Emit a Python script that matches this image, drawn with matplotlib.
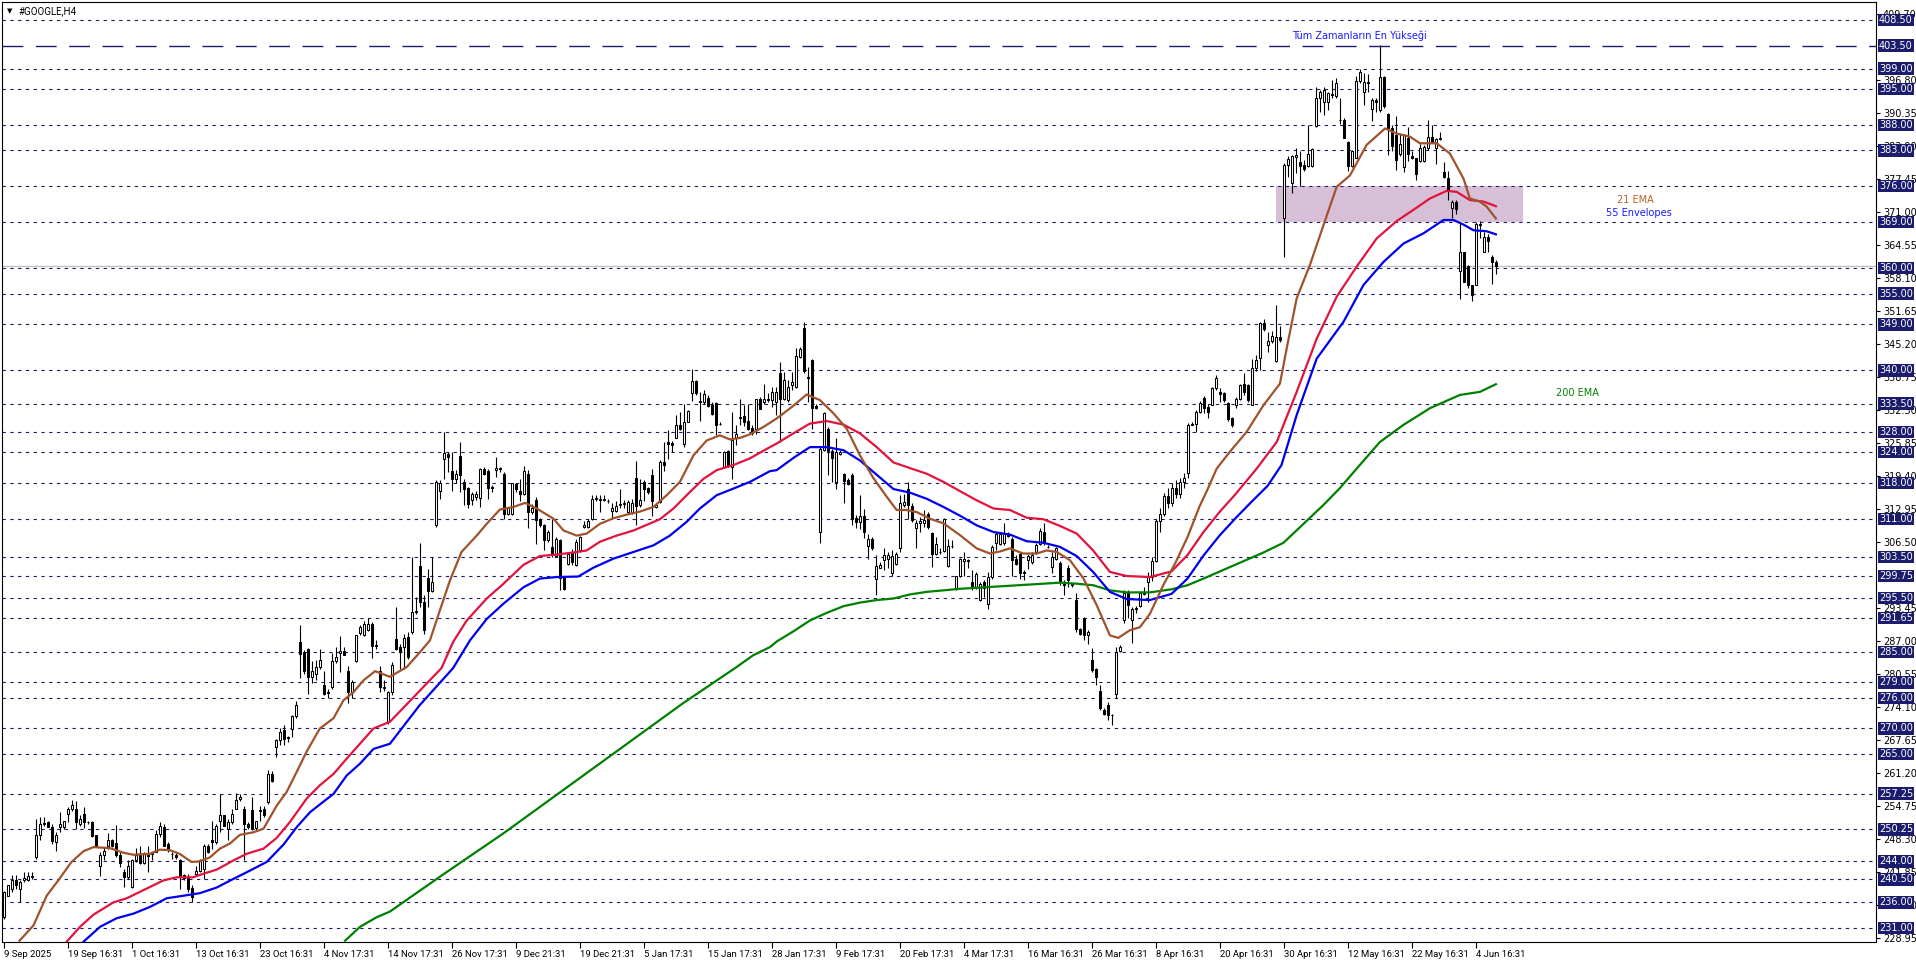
import matplotlib
matplotlib.use("Agg")
import matplotlib.pyplot as plt
import matplotlib.transforms as mtransforms
from matplotlib.patches import Rectangle

plt.rcParams['font.family'] = ['DejaVu Sans']

# ---------------- data ----------------
opens = [
233.1,237.3,238.7,240.3,238.7,240.3,240.3,240.9,244.8,249.1,
251.6,251.7,250.7,247.8,250.7,250.7,253.3,254.2,254.2,251.4,
253.3,251.8,251.8,249.1,243.2,245.2,247.1,248.1,247.7,245.3,
242.0,240.9,239.0,244.2,245.3,243.7,245.3,245.5,245.9,249.4,
250.7,247.5,245.5,245.3,244.2,241.3,240.9,238.8,241.6,242.2,
242.6,247.0,248.1,247.8,252.0,253.0,250.4,251.7,254.3,256.3,
254.3,251.4,254.0,250.5,254.0,254.2,255.6,261.1,266.4,267.7,
269.6,268.3,269.9,272.4,286.9,284.9,285.5,280.1,280.7,282.0,
278.4,276.9,278.1,283.2,284.8,285.1,281.2,277.2,283.1,288.7,
288.2,289.2,290.5,286.2,281.2,278.1,271.2,277.1,287.5,285.9,
285.9,287.9,288.9,292.9,301.7,294.7,299.4,296.8,309.7,316.4,
322.7,323.7,320.3,318.7,323.3,318.2,317.0,314.6,315.2,315.0,
320.8,320.3,317.2,320.6,320.9,319.8,312.0,312.0,317.7,316.5,
315.9,319.8,312.3,314.6,310.9,309.8,306.8,305.5,303.8,306.8,
299.6,302.2,304.5,301.9,304.8,309.4,309.4,311.0,314.9,314.6,
314.7,314.4,312.6,312.6,313.6,313.9,312.3,312.3,318.9,313.6,
318.2,317.0,319.5,313.3,314.3,322.1,326.0,325.9,326.8,329.3,
325.7,330.0,335.5,337.9,334.0,333.8,334.6,333.3,333.7,329.6,
321.1,324.2,321.1,326.7,330.9,331.1,330.2,328.7,328.5,334.5,
333.8,334.4,334.2,333.9,339.4,334.5,334.2,337.1,336.8,342.6,
348.2,338.7,342.0,333.1,308.4,324.4,328.6,324.2,318.2,323.7,
319.8,318.5,319.5,311.2,310.4,311.6,305.7,307.1,299.3,301.4,
302.9,303.2,300.3,302.2,305.2,313.6,316.9,313.5,309.1,310.2,
310.2,312.0,308.3,304.2,304.5,304.6,301.8,305.7,297.2,299.9,
302.7,302.9,298.6,297.7,295.1,298.6,294.4,299.6,306.3,306.1,
306.3,307.8,307.1,303.1,304.2,300.5,302.9,302.6,304.5,306.1,
308.4,305.5,301.6,303.2,302.4,298.6,301.4,298.1,295.1,289.5,
291.5,288.3,283.3,281.6,277.4,273.7,274.5,272.7,276.8,285.1,
291.2,296.7,291.2,293.3,293.9,296.2,298.6,299.6,302.8,310.5,
312.0,315.5,314.0,317.0,315.8,318.2,320.0,329.4,329.6,331.9,
334.6,332.9,333.3,336.6,335.7,335.5,333.7,330.6,333.2,334.4,
337.3,337.1,333.2,340.4,342.5,349.2,344.9,345.7,341.8,346.6,
369.7,380.2,376.6,381.8,380.7,380.2,380.0,380.0,387.7,393.3,
392.4,392.4,393.9,393.7,389.0,389.0,384.7,380.0,381.6,396.6,
394.4,396.3,391.1,392.9,390.9,397.4,390.1,387.3,386.0,382.4,
379.8,385.4,382.0,381.5,380.9,380.9,383.4,385.7,383.4,385.3,
378.8,377.7,371.8,373.0,359.4,363.1,360.5,356.6,356.7,368.6,
363.2,366.1,362.2,361.1]

highs = [
238.2,239.4,241.4,241.3,240.3,242.0,241.9,241.9,252.3,252.7,
252.7,252.0,251.4,249.7,253.6,252.0,254.6,256.1,255.9,253.0,
254.6,252.0,252.0,249.2,245.8,246.8,249.6,248.4,251.2,245.8,
242.6,244.2,244.5,246.6,247.1,245.9,247.1,245.9,250.1,251.7,
251.4,247.8,245.8,245.8,244.5,241.6,241.6,239.3,243.2,244.5,
247.5,247.5,252.0,251.4,257.2,253.1,252.3,254.3,257.4,257.2,
254.9,251.7,256.6,252.0,254.9,254.9,261.8,261.6,268.0,270.1,
270.6,268.6,272.6,275.3,290.2,285.3,285.7,283.1,283.3,285.5,
281.2,277.8,284.8,285.9,288.1,285.9,282.2,279.4,288.3,290.2,
291.1,291.6,290.8,287.2,282.3,279.4,277.4,283.0,293.7,286.5,
288.5,288.9,303.5,295.7,306.3,296.0,301.2,303.5,318.5,318.5,
328.0,324.0,324.0,320.5,326.0,318.8,317.2,316.2,316.5,320.9,
321.1,320.8,317.5,323.1,321.1,320.1,313.3,318.0,318.0,318.8,
321.3,320.5,313.9,315.2,311.1,310.0,308.7,311.0,307.4,307.1,
299.9,304.5,305.0,307.0,307.7,310.5,311.0,315.6,315.6,315.6,
315.6,314.8,314.1,314.4,316.9,314.6,314.6,314.8,322.2,318.8,
318.5,317.2,320.8,314.1,322.4,326.0,328.3,326.1,331.2,331.9,
333.5,332.2,340.3,338.1,335.8,336.1,335.1,333.8,333.8,330.0,
324.2,324.4,331.9,329.3,334.5,333.2,333.5,329.3,334.5,334.8,
337.4,335.5,336.8,336.8,341.7,339.7,338.1,339.7,344.4,344.6,
349.4,340.7,342.3,333.5,325.0,331.9,329.0,324.6,326.8,324.4,
320.0,318.9,320.0,311.8,315.6,312.9,308.1,307.5,303.9,302.6,
305.2,304.5,304.8,304.5,315.6,315.9,318.2,314.0,310.7,311.4,
312.7,312.3,308.4,307.5,305.2,311.2,307.1,306.8,299.9,303.3,
304.5,303.2,300.9,300.6,298.6,299.0,300.6,305.8,308.4,308.4,
310.2,308.4,307.5,304.0,304.5,300.9,304.2,304.5,306.3,309.1,
310.1,305.8,304.5,305.5,302.7,299.0,301.9,298.5,296.4,289.6,
291.8,289.2,285.7,281.8,278.4,273.9,275.2,272.9,285.9,286.3,
297.0,297.0,293.8,293.9,296.7,297.7,300.6,303.5,311.0,313.0,
316.0,317.0,318.0,318.5,319.0,320.0,329.8,329.9,332.2,334.0,
335.0,333.5,336.8,339.1,336.5,335.8,333.9,330.9,334.8,337.4,
339.4,337.4,342.3,343.0,349.4,350.0,347.6,347.7,352.8,348.7,
380.5,382.0,382.2,383.5,382.8,381.1,388.0,383.4,395.5,394.8,
395.5,394.5,396.8,397.2,393.3,389.3,384.9,383.1,397.6,398.9,
398.1,397.9,393.2,393.2,403.6,397.6,390.3,387.9,389.8,386.3,
386.3,387.6,382.8,381.6,384.2,384.1,389.0,388.0,385.5,386.7,
380.8,379.0,373.3,373.3,369.1,363.2,360.6,356.7,369.1,369.2,
367.1,366.6,362.5,361.6]

lows = [
232.8,237.2,238.0,238.7,236.0,240.0,240.1,240.6,244.5,248.1,
251.0,250.7,247.5,246.0,249.7,250.4,251.7,253.8,250.4,251.0,
250.5,251.4,248.8,247.0,241.1,244.2,246.5,246.8,244.8,242.9,
239.0,240.6,238.8,243.9,243.5,243.5,241.9,244.2,245.8,248.8,
247.0,245.8,244.5,244.5,238.7,240.3,238.0,236.0,241.3,241.9,
240.6,245.7,246.5,247.5,249.7,250.9,248.1,251.4,254.2,255.9,
244.2,250.4,250.1,250.1,252.0,252.7,255.3,259.6,264.4,266.7,
266.7,267.3,268.3,272.0,279.9,280.7,276.8,278.8,279.4,281.7,
276.5,276.0,277.8,282.7,281.0,284.3,275.0,276.0,282.9,288.2,
288.1,289.0,283.8,285.5,277.2,277.4,270.9,276.5,285.3,281.7,
281.7,283.6,288.5,292.4,293.7,288.5,293.7,296.6,309.4,314.9,
318.8,320.1,316.4,318.0,316.2,313.6,313.0,313.6,314.6,313.3,
319.5,314.9,316.2,319.2,320.1,311.0,311.8,311.8,316.2,314.4,
315.6,309.2,312.0,306.1,309.4,304.8,306.5,303.5,303.7,297.0,
297.0,301.9,301.9,301.8,304.5,309.2,309.2,310.7,314.4,312.3,
314.4,314.1,311.0,312.3,313.0,313.0,312.0,312.0,309.7,313.3,
314.4,315.9,311.5,313.0,314.1,320.4,322.7,324.0,326.7,328.3,
325.0,329.9,334.0,335.1,330.2,333.5,332.8,331.2,327.3,329.3,
320.9,321.1,318.8,325.4,329.3,329.1,328.3,327.3,327.6,332.4,
333.5,333.8,332.9,331.2,326.0,334.2,333.9,336.1,336.5,342.5,
339.4,333.9,328.6,332.5,306.3,324.2,319.5,318.2,316.9,323.4,
314.0,317.6,309.7,309.2,309.0,307.3,303.2,304.8,296.0,301.3,
300.9,301.3,299.9,301.9,304.5,313.3,311.0,310.4,305.3,308.4,
309.4,308.9,301.6,303.9,304.2,304.5,301.6,305.2,297.0,299.6,
299.9,301.3,297.0,297.3,294.9,295.7,293.4,299.3,304.8,305.8,
305.8,307.4,299.8,301.9,299.3,299.0,301.1,302.2,304.2,305.8,
305.8,305.2,300.3,302.9,298.0,296.0,297.7,297.7,288.9,288.2,
287.2,286.6,281.0,278.4,273.7,272.7,271.6,270.6,275.9,285.0,
290.7,291.5,286.8,292.5,293.7,296.0,294.7,298.8,302.5,308.5,
311.5,313.0,313.5,315.0,315.0,317.0,319.0,329.3,328.0,331.6,
331.6,330.6,333.2,336.1,333.9,333.9,330.1,329.0,332.6,334.2,
335.2,333.9,333.2,339.9,340.0,347.7,343.6,345.3,341.6,345.5,
362.2,377.9,374.6,378.5,376.1,379.0,379.8,379.8,387.5,390.6,
390.0,390.9,393.2,393.3,388.1,385.4,378.9,379.8,381.5,396.1,
391.9,394.5,388.8,390.5,390.5,391.3,382.1,382.8,379.2,382.0,
378.7,380.9,381.3,377.2,380.8,380.7,383.1,384.4,380.3,385.0,
377.7,373.3,369.7,370.5,354.0,357.2,356.2,353.6,356.6,365.9,
363.1,363.2,356.8,358.8]

closes = [
238.0,239.3,240.3,239.3,240.0,240.7,241.1,241.1,249.1,251.4,
251.4,250.8,247.9,249.2,251.4,252.0,254.3,255.1,251.7,252.3,
251.7,251.7,249.0,247.1,245.2,246.1,248.1,247.0,245.3,243.7,
240.9,243.1,244.2,245.3,243.7,245.5,245.0,245.6,249.4,251.0,
247.1,246.5,245.4,244.9,240.9,240.7,238.7,237.0,242.2,244.2,
247.0,245.8,247.8,251.0,253.0,251.0,251.7,253.3,256.1,256.6,
251.4,250.7,250.4,252.0,253.9,253.0,261.1,259.8,267.7,269.3,
268.0,268.1,272.4,274.6,284.6,281.2,280.1,281.2,282.0,283.3,
276.8,277.2,283.1,284.0,285.1,284.4,277.2,279.1,288.2,289.8,
290.5,290.5,286.1,286.2,278.1,278.0,277.1,282.5,285.6,284.9,
287.7,284.0,292.8,292.7,294.7,289.2,296.8,298.6,318.2,318.0,
323.9,323.1,318.7,319.8,319.5,316.9,313.9,315.9,315.9,320.8,
319.8,317.0,317.0,320.9,320.8,312.0,313.0,317.9,316.8,315.9,
320.3,312.3,313.1,310.7,309.7,306.8,308.5,304.0,307.1,299.4,
297.3,304.1,302.5,306.4,307.4,309.8,310.5,314.8,315.0,314.8,
314.9,314.5,313.1,313.5,313.9,314.0,314.3,314.1,313.5,314.6,
316.9,316.2,314.4,313.7,322.1,321.6,325.7,325.5,329.3,328.5,
330.0,332.0,337.9,335.5,333.8,335.3,333.0,331.5,329.3,329.5,
324.0,321.3,326.3,327.6,330.7,330.0,328.6,327.8,334.4,332.5,
334.4,334.2,335.8,335.7,334.5,338.1,336.8,337.8,342.9,344.2,
339.8,338.5,332.7,332.7,324.7,331.6,324.2,322.8,324.1,324.1,
318.3,317.7,311.0,310.4,311.6,308.4,307.1,305.2,301.8,301.9,
304.0,304.0,303.7,304.2,314.0,314.2,313.6,310.7,310.1,310.5,
310.7,309.4,304.2,306.1,304.4,310.9,305.7,305.6,299.8,303.1,
303.1,302.8,297.5,300.1,298.3,297.5,299.6,305.5,308.1,308.1,
308.1,307.7,302.9,302.2,300.3,300.4,303.7,303.9,305.9,308.6,
306.3,305.4,303.5,305.2,298.6,298.0,299.0,298.1,289.5,288.4,
288.2,288.9,281.4,280.1,273.9,272.9,272.6,272.6,285.0,285.9,
296.4,294.1,293.4,293.6,296.4,296.4,299.6,302.8,310.5,312.0,
315.5,314.0,317.0,315.8,318.2,319.0,329.4,329.6,331.9,333.7,
332.7,331.9,336.6,338.6,335.3,334.2,330.5,329.3,334.4,337.1,
335.7,334.2,340.4,342.0,349.2,348.1,345.7,346.8,346.6,345.9,
380.2,381.3,382.0,382.2,380.0,379.4,382.4,383.3,393.3,394.5,
394.8,394.2,394.0,396.1,388.9,385.5,380.0,382.9,396.6,398.3,
396.3,396.2,392.9,392.5,397.4,391.6,387.3,383.9,381.1,384.2,
386.0,382.4,381.5,378.3,383.5,383.7,385.7,384.7,385.2,385.4,
377.9,375.3,373.0,371.6,363.1,357.2,356.6,354.7,368.6,368.5,
366.1,365.3,361.1,360.5]

# indicator lines (bar index, price)
ema21_x = [4,7.5,10.8,13.7,17,20,22.5,26.6,30,32.5,36.6,39.1,41.6,44,47,49,51.6,54.1,56.6,59.1,
           62.5,65,68.3,70.8,73.3,75.8,79.1,82.5,85,87.5,90,92.9,96.6,100.8,104.1,106.6,109.1,111.6,114.5,118.3,
           120.8,124.1,127.5,130.4,133.3,137.5,140,143.3,145.8,149.1,152.5,155.8,159.1,162.5,165.8,169.1,172.5,175.8,179.1,181.6,
           184.1,186.6,189.9,193.3,197.5,200.8,204.1,207.5,210.8,214.1,217.5,220.8,223.3,225.8,228.3,231.6,235,239.1,243.3,246.6,
           249.1,251.6,254.9,258.3,260.8,263.3,266.6,270,273.3,276.6,278.7,281.6,284.1,286.6,290,293,296,299,301,303.3,306.6,
           310.8,315,319.1,320.8,323.3,326.6,330,333.3,336.6,340.8,345.4,348.3,351.6,354.1,358.3,361.6,365,366.6,369.1,370.8,373.1]
ema21_y = [228.5,231.5,237.3,240.3,243.9,246.0,246.8,246.6,245.7,245.3,245.5,246.3,246.2,245.5,243.9,244.0,244.8,246.5,247.5,249.2,
           249.7,250.4,254.9,257.6,261.5,265.5,270.0,272.0,275.5,277.1,279.4,281.2,280.1,282.0,284.9,287.2,293.1,298.9,304.5,307.7,
           310.0,312.8,313.3,314.1,313.0,311.0,308.7,307.7,308.1,310.0,311.1,311.8,312.4,313.3,315.6,318.2,323.4,326.3,327.3,326.5,
           326.8,327.5,328.9,330.6,333.1,335.3,334.2,331.6,328.6,323.4,318.9,315.3,312.7,312.7,312.3,311.0,310.1,307.8,305.2,304.2,
           304.6,305.2,304.2,304.2,304.8,304.5,302.9,299.3,294.1,288.2,287.7,289.2,289.8,292.4,298.1,302.4,307.4,313.4,316.7,320.8,324.1,
           328.0,333.2,337.4,344.3,354.1,360.6,368.4,375.9,378.1,384.1,387.3,386.3,385.7,384.4,384.4,382.4,377.5,373.6,373.0,372.0,369.7]

env_up_x = [15.8,19.1,22.5,27.5,30.8,35.8,40,43.3,47.4,50,53.3,57.5,60.8,65,68.3,71.6,75.8,79.1,82.5,85.8,
            89.1,92.5,96.6,103,109.5,112.4,115.8,120.8,125,130,134.1,138.3,142.5,145.8,149.1,153.3,157.5,160.8,164.1,167.5,
            170.8,175,178.3,182.5,186.6,191.6,193.3,197.5,201.6,205.8,210,214.1,218.3,222.5,226.6,230.8,235,239.1,243.3,247.5,
            251.6,255.8,260,264.1,268.3,272.4,276.6,280.8,286.6,292,296,300,304,308,313.3,318.3,323.3,328.3,333.3,338.3,343.3,
            348.3,352.5,356.6,360.8,363.3,366.6,370,373.1]
env_up_y = [228.3,231.2,233.6,236.0,236.8,238.7,240.3,240.9,240.9,241.6,242.4,244.2,245.5,246.5,248.6,251.7,256.3,258.9,261.1,264.1,
            267.0,270.0,271.3,276.5,281.8,286.9,291.1,295.4,298.3,302.0,303.7,304.0,304.4,304.8,306.5,307.7,308.7,309.8,310.9,313.0,
            315.6,318.8,320.5,321.5,322.8,325.0,325.7,327.7,329.6,330.1,329.4,327.7,325.0,322.0,320.9,319.8,318.2,316.4,314.6,313.0,
            312.7,311.2,310.9,309.6,308.1,304.8,300.6,299.8,299.6,300.7,303.9,308.4,312.3,315.8,320.8,326.0,335.8,346.2,354.4,360.3,365.8,
            369.2,371.4,373.6,375.1,374.9,373.3,373.0,372.1]

env_dn_x = [20,24.1,28.3,32.5,36.6,40.8,45,49.1,53.3,57.5,61.6,65.8,70,73.3,76.6,80,82.5,85.8,89.1,92.5,
            96.6,104,112.4,116.6,120.8,125,130,134.1,138.3,143.7,147.4,152.5,157.5,162.5,166.6,170.8,174.1,178.3,182.5,186.6,
            191.6,193.3,197.5,201.6,205.8,210,214.1,218.3,222.5,226.6,230.8,235,239.1,243.3,247.5,251.6,255.8,260,264.1,268.3,
            272.4,276.6,280.8,286.6,292,296,300,304,308,312,316,319.5,323.3,328.3,335,340,345,350,355,360,362.5,365,
            367.5,370.8,373.1]
env_dn_y = [228.3,231.2,232.9,233.8,235.1,236.8,237.3,237.8,238.9,240.6,242.2,243.9,247.3,250.7,253.6,255.7,257.2,260.8,263.1,266.0,
            267.0,274.5,281.8,287.2,291.4,294.4,297.6,299.3,299.6,299.7,301.4,303.2,304.5,305.8,307.7,310.4,313.0,315.6,316.9,318.2,
            320.3,320.5,322.9,325.0,325.0,324.4,322.4,319.6,316.8,316.1,314.9,313.3,311.6,309.7,308.4,307.9,306.6,306.3,305.5,303.7,
            300.6,296.7,295.3,295.1,296.3,299.3,303.8,307.7,311.1,314.3,317.4,321.5,331.3,342.3,349.5,356.7,361.2,364.8,366.8,369.4,369.4,368.5,
            367.4,367.2,366.6]

ema200_x = [85.4,89.1,93.3,96.6,110,125,140,155,170,182.9,187.4,191.6,193.3,197.5,201.6,205.8,210,214.1,218.3,222.5,
            226.6,230.8,235,239.1,243.3,247.5,251.6,255.8,260,264.1,268.3,272.4,276.6,280.8,286.6,292,296,300,305,310,
            315,320,325,330,334,338.3,344.1,349.9,356.6,364.1,369.1,373.1]
ema200_y = [228.5,231.2,233.1,234.2,241.5,249.5,258.0,266.5,275.0,281.8,284.3,285.9,287.0,289.0,291.1,292.6,293.9,294.6,295.1,295.4,
            296.2,296.7,297.0,297.3,297.5,297.7,297.9,298.1,298.3,298.5,298.3,298.0,297.0,296.6,296.6,297.2,298.0,299.3,301.0,302.7,
            304.4,306.3,310.0,313.7,316.9,320.8,326.0,329.3,332.6,335.2,335.8,337.3]

levels = [408.50,403.50,399.00,395.00,388.00,383.00,376.00,369.00,360.00,355.00,349.00,340.00,
          333.50,328.00,324.00,318.00,311.00,303.50,299.75,295.50,291.65,285.00,279.00,276.00,
          270.00,265.00,257.25,250.25,244.00,240.50,236.00,231.00]
ath_level = 403.50

price_ticks = [409.70,396.80,390.35,383.90,377.45,371.00,364.55,358.10,351.65,345.20,338.75,332.30,
               325.85,319.40,312.95,306.50,293.45,287.00,280.55,274.10,267.65,261.20,254.75,248.30,
               241.85,235.40,228.95]

date_labels = ["9 Sep 2025","19 Sep 16:31","1 Oct 16:31","13 Oct 16:31","23 Oct 16:31","4 Nov 17:31",
               "14 Nov 17:31","26 Nov 17:31","9 Dec 21:31","19 Dec 21:31","5 Jan 17:31","15 Jan 17:31",
               "28 Jan 17:31","9 Feb 17:31","20 Feb 17:31","4 Mar 17:31","16 Mar 16:31","26 Mar 16:31",
               "8 Apr 16:31","20 Apr 16:31","30 Apr 16:31","12 May 16:31","22 May 16:31","4 Jun 16:31"]
date_step = 16

zone_low, zone_high = 369.0, 376.0
zone_start, zone_end = 318.1, 379.9

# ---------------- figure ----------------
W, H = 1916, 963
fig = plt.figure(figsize=(W/100, H/100), dpi=100)
fig.patch.set_facecolor('white')
ax = fig.add_axes([2/W, 21/H, 1874/W, 940/H])
ax.set_xlim(-0.375, 468.125)
ax.set_ylim(228.25, 412.02)

navy = '#1c1c6e'
small_font = 'Roboto'

# zone
ax.add_patch(Rectangle((zone_start, zone_low), zone_end - zone_start, zone_high - zone_low,
                       facecolor='#d8bfd8', edgecolor='none', zorder=0.5))

# level lines
for lv in levels:
    if lv == ath_level:
        ax.axhline(lv, color=navy, lw=1.0, linestyle=(0, (15, 9)), zorder=1)
    else:
        ax.axhline(lv, color=navy, lw=0.8, linestyle=(0, (3, 4)), zorder=1)

# bid line
ax.axhline(closes[-1], color='#c0c0c0', lw=1.0, zorder=1.2)

# candles
n = len(closes)
xs = list(range(n))
ax.vlines(xs, lows, highs, color='black', lw=0.8, zorder=2)
bull_x = [i for i in xs if closes[i] >= opens[i]]
bear_x = [i for i in xs if closes[i] < opens[i]]
ax.bar(bull_x, [max(closes[i] - opens[i], 0.08) for i in bull_x], bottom=[opens[i] for i in bull_x],
       width=0.5, color='white', edgecolor='black', linewidth=0.75, zorder=2.1)
ax.bar(bear_x, [opens[i] - closes[i] for i in bear_x], bottom=[closes[i] for i in bear_x],
       width=0.5, color='black', edgecolor='black', linewidth=0.75, zorder=2.1)

# indicators
ax.plot(ema200_x, ema200_y, color='#008000', lw=1.6, zorder=3)
ax.plot(env_dn_x, env_dn_y, color='#0000ee', lw=1.6, zorder=3)
ax.plot(env_up_x, env_up_y, color='#e0143c', lw=1.6, zorder=3)
ax.plot(ema21_x, ema21_y, color='#a0522d', lw=1.6, zorder=3)

# annotations
ax.text(339, 405.4, 'Tüm Zamanların En Yükseği', color='#1a1aff', fontsize=7, ha='center', va='center', zorder=4)
ax.text(407.9, 373.3, '21 EMA', color='#b8602a', fontsize=7, ha='center', va='center', zorder=4)
ax.text(408.9, 370.8, '55 Envelopes', color='#1a1aff', fontsize=7, ha='center', va='center', zorder=4)
ax.text(393.5, 335.6, '200 EMA', color='#008000', fontsize=7, ha='center', va='center', zorder=4)

# spines
for s in ax.spines.values():
    s.set_color('black')
    s.set_linewidth(0.8)

# y axis on right
ax.yaxis.tick_right()
ax.set_yticks(price_ticks)
ax.set_yticklabels([f'{v:.2f}' for v in price_ticks])
ax.tick_params(axis='y', length=3, width=0.8, pad=2, labelsize=7, colors='black')

# level labels
trans = mtransforms.blended_transform_factory(ax.transAxes, ax.transData)
for lv in levels:
    ax.text(1.0016, lv, f'{lv:.2f}', transform=trans, color='white', fontsize=7, ha='left', va='center',
            clip_on=False, zorder=6,
            bbox=dict(boxstyle='square,pad=0.12', facecolor=navy, edgecolor='none'))

# x axis
xt = [date_step * k for k in range(len(date_labels))]
ax.set_xticks(xt)
ax.set_xticklabels(date_labels, ha='left', fontfamily=small_font)
ax.tick_params(axis='x', length=4, width=0.8, pad=2, labelsize=6.8, colors='black')

# title
fig.text(7/W, 1 - 11/H, '▼', fontsize=5, color='black', va='center', ha='left')
fig.text(18/W, 1 - 11/H, '#GOOGLE,H4', fontsize=7, color='black', va='center', ha='left', fontfamily=small_font)

fig.savefig('out.png', dpi=100, facecolor='white')
